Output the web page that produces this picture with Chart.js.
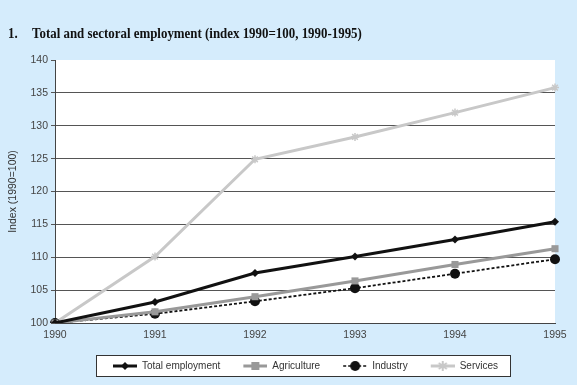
<!DOCTYPE html>
<html>
<head>
<meta charset="utf-8">
<script src="https://cdn.jsdelivr.net/npm/chart.js@4/dist/chart.umd.min.js"></script>
<style>
  html, body { margin: 0; padding: 0; background: #d5ecfc; }
  #wrap { width: 577px; height: 385px; }
</style>
</head>
<body>
<div id="wrap"><canvas id="chart" width="577" height="385"></canvas></div>
<script>
// Data
const years = ['1990', '1991', '1992', '1993', '1994', '1995'];
const totalEmployment = [100, 103.2, 107.6, 110.1, 112.7, 115.4];
const agriculture = [100, 101.7, 104.0, 106.4, 108.9, 111.3];
const industry = [100, 101.4, 103.3, 105.3, 107.5, 109.7];
const services = [100, 110.1, 124.9, 128.3, 132.0, 135.8];
const yTicks = [100, 105, 110, 115, 120, 125, 130, 135, 140];
const titleNumber = '1.';
const titleText = 'Total and sectoral employment (index 1990=100, 1990-1995)';

// Legend icons: a short line with its marker; the left 11px stay empty as spacing
const ICON_GAP = 11;
function makeIcon(color, lineWidth, dash, marker) {
  const c = document.createElement('canvas');
  c.width = 24 + ICON_GAP; c.height = 12;
  const ctx = c.getContext('2d');
  ctx.translate(ICON_GAP, 0);
  ctx.strokeStyle = color;
  ctx.fillStyle = color;
  ctx.lineWidth = lineWidth;
  ctx.setLineDash(dash);
  ctx.beginPath(); ctx.moveTo(0, 6); ctx.lineTo(24, 6); ctx.stroke();
  ctx.setLineDash([]);
  ctx.beginPath();
  if (marker === 'diamond') {
    ctx.moveTo(12, 2); ctx.lineTo(16, 6); ctx.lineTo(12, 10); ctx.lineTo(8, 6); ctx.closePath(); ctx.fill();
  } else if (marker === 'square') {
    ctx.fillRect(8, 2, 8, 8);
  } else if (marker === 'circle') {
    ctx.arc(12, 6, 5, 0, Math.PI * 2); ctx.fill();
  } else {
    ctx.lineWidth = 2;
    ctx.moveTo(12, 1); ctx.lineTo(12, 11);
    ctx.moveTo(8, 3); ctx.lineTo(16, 9);
    ctx.moveTo(16, 3); ctx.lineTo(8, 9);
    ctx.stroke();
  }
  return c;
}

const icons = [
  makeIcon('#111', 3, [], 'diamond'),
  makeIcon('#999', 3, [], 'square'),
  makeIcon('#111', 1.5, [3, 2], 'circle'),
  makeIcon('#c8c8c8', 3, [], 'star')
];

const panelsPlugin = {
  id: 'panels',
  afterLayout(chart) {
    chart.legend.left += 19;
    chart.legend.right += 19;
  },
  beforeDraw(chart) {
    const { ctx, chartArea } = chart;
    ctx.save();
    ctx.fillStyle = '#ffffff';
    ctx.fillRect(chartArea.left, chartArea.top, chartArea.right - chartArea.left, chartArea.bottom - chartArea.top);
    const boxes = chart.legend.legendHitBoxes;
    if (boxes && boxes.length) {
      const first = boxes[0], last = boxes[boxes.length - 1];
      const x0 = Math.round(first.left + ICON_GAP - 17) + 0.5;
      const x1 = Math.round(last.left + last.width + 12) + 0.5;
      const y0 = Math.round(first.top + first.height / 2 - 11) + 0.5;
      ctx.fillRect(x0, y0, x1 - x0, 21);
      ctx.strokeStyle = '#333';
      ctx.lineWidth = 1;
      ctx.strokeRect(x0, y0, x1 - x0, 21);
    }
    // condensed bold serif title
    ctx.fillStyle = '#111';
    ctx.font = 'bold 14.5px "Liberation Serif"';
    ctx.textBaseline = 'alphabetic';
    ctx.translate(8, 37.5);
    ctx.scale(0.89, 1);
    ctx.fillText(titleNumber, 0, 0);
    ctx.fillText(titleText, 24 / 0.89, 0);
    ctx.restore();
  }
};

new Chart(document.getElementById('chart'), {
  type: 'line',
  data: {
    labels: years,
    datasets: [
      {
        label: 'Total employment',
        data: totalEmployment,
        borderColor: '#111', backgroundColor: '#111',
        borderWidth: 3, pointStyle: 'rectRot', pointRadius: 4, pointBorderWidth: 0
      },
      {
        label: 'Agriculture',
        data: agriculture,
        borderColor: '#999', backgroundColor: '#999',
        borderWidth: 3, pointStyle: 'rect', pointRadius: 5, pointBorderWidth: 0
      },
      {
        label: 'Industry',
        data: industry,
        borderColor: '#111', backgroundColor: '#111',
        borderWidth: 1.8, borderDash: [3, 2], pointStyle: 'circle', pointRadius: 5, pointBorderWidth: 0
      },
      {
        label: 'Services',
        data: services,
        borderColor: '#c8c8c8', backgroundColor: '#c8c8c8',
        borderWidth: 3, pointStyle: 'star', pointRadius: 4, pointBorderWidth: 1.5
      }
    ]
  },
  options: {
    responsive: false,
    animation: false,
    layout: { padding: { left: 7, right: 22, top: 60, bottom: 4 } },
    plugins: {
      title: { display: false },
      legend: {
        position: 'bottom',
        labels: {
          usePointStyle: true,
          pointStyleWidth: 24 + ICON_GAP,
          padding: 12,
          color: '#333',
          font: { family: 'Liberation Sans', size: 10 },
          generateLabels(chart) {
            const items = Chart.defaults.plugins.legend.labels.generateLabels(chart);
            return items.map((it, i) => Object.assign(it, { pointStyle: icons[i] }));
          }
        }
      },
      tooltip: { enabled: false }
    },
    scales: {
      x: {
        offset: false,
        grid: { display: false, drawTicks: false, tickLength: 0 },
        border: { display: true, color: '#444', width: 1 },
        ticks: { color: '#444', padding: 6, maxRotation: 0, font: { family: 'Liberation Sans', size: 10.5 } },
        afterFit(scale) { scale.height = 26; }
      },
      y: {
        min: 100, max: 140,
        afterBuildTicks(scale) { scale.ticks = yTicks.map(v => ({ value: v })); },
        grid: {
          color: ctx => (ctx.tick && ctx.tick.value === 140 ? 'rgba(0,0,0,0)' : '#555'),
          tickColor: '#555',
          tickLength: 4
        },
        border: { display: true, color: '#444', width: 1 },
        ticks: { color: '#444', padding: 3, font: { family: 'Liberation Sans', size: 10.5 } },
        title: {
          display: true,
          text: 'Index (1990=100)',
          color: '#333',
          padding: 0,
          font: { family: 'Liberation Sans', size: 10.5 }
        },
        afterFit(scale) { scale.width = 48; }
      }
    }
  },
  plugins: [panelsPlugin]
});
</script>
</body>
</html>
